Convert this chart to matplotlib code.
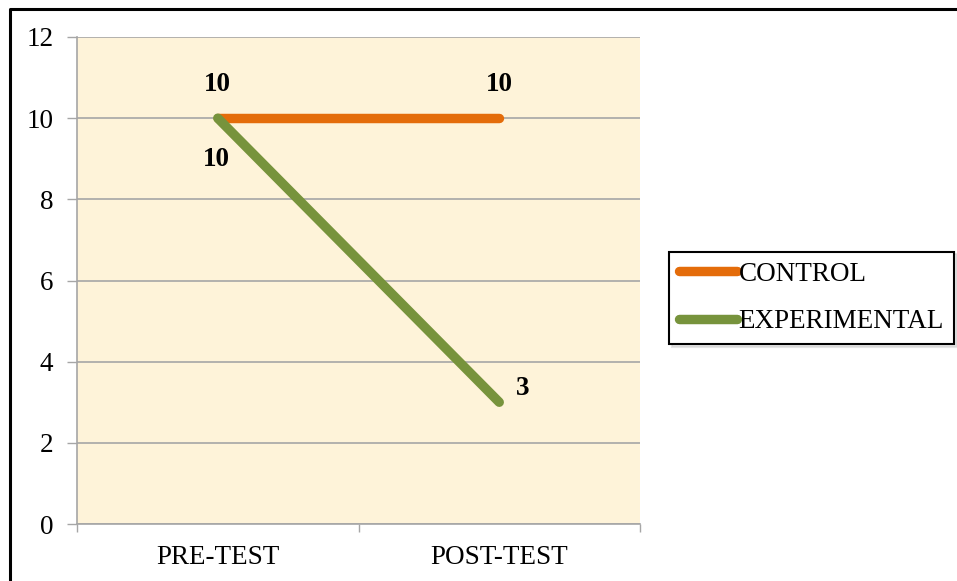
import matplotlib.pyplot as plt
from matplotlib.lines import Line2D

# Test scores per group
phases = ['PRE-TEST', 'POST-TEST']
control = [10, 10]
experimental = [10, 3]

plt.rcParams['font.family'] = ['Liberation Serif', 'DejaVu Serif']

fig = plt.figure(figsize=(9.57, 5.81), dpi=100)
ax = fig.add_axes([77 / 957, 57 / 581, 563 / 957, 487 / 581])
ax.set_facecolor('#FEF3D9')

x = list(range(len(phases)))
ax.plot(x, control, color='#E46C0A', linewidth=6.8, solid_capstyle='round',
        label='CONTROL', zorder=3)
ax.plot(x, experimental, color='#77933C', linewidth=6.8, solid_capstyle='round',
        label='EXPERIMENTAL', zorder=4)

# Value labels
lbl = dict(fontsize=19.5, fontweight='bold', ha='center', va='center',
           textcoords='offset points')
ax.annotate(str(control[0]), (x[0], control[0]), xytext=(0, 24), **lbl)
ax.annotate(str(control[1]), (x[1], control[1]), xytext=(0, 24), **lbl)
ax.annotate(str(experimental[0]), (x[0], experimental[0]), xytext=(-1, -30), **lbl)
ax.annotate(str(experimental[1]), (x[1], experimental[1]), xytext=(17, 10), **lbl)

# Axes
ax.set_xlim(-0.5, len(phases) - 0.5)
ax.set_ylim(0, 12)
ax.set_yticks(range(0, 13, 2))
ax.set_xticks([i - 0.5 for i in range(len(phases) + 1)])
ax.set_xticklabels([])
ax.set_xticks(x, minor=True)
ax.set_xticklabels(phases, minor=True)
ax.tick_params(axis='x', which='major', length=6, width=1, color='#A6A6A6')
ax.tick_params(axis='x', which='minor', length=0, pad=15, labelsize=19.5)
ax.tick_params(axis='y', length=7, width=1, color='#A6A6A6', pad=10, labelsize=19.5)
ax.grid(axis='y', color='#A6A6A6', linewidth=1.2)
ax.set_axisbelow(True)
for side in ['top', 'right']:
    ax.spines[side].set_visible(False)
for side in ['left', 'bottom']:
    ax.spines[side].set_color('#A6A6A6')
    ax.spines[side].set_linewidth(1.2)

leg = fig.legend(loc='center left', bbox_to_anchor=(669 / 957, 1 - 298 / 581),
                 fontsize=19.5, frameon=True, fancybox=False, handlelength=2.15,
                 handletextpad=0.05, borderpad=0.37, labelspacing=0.84,
                 borderaxespad=0, shadow={'color': '0.8'})
leg.get_frame().set_edgecolor('black')
leg.get_frame().set_linewidth(1.5)

# Outer frame (top and left edges)
fx = 10 / 957
fy = 1 - 9 / 581
fig.add_artist(Line2D([fx, fx, 1], [0, fy, fy], color='black', linewidth=2.2,
                      transform=fig.transFigure))

fig.savefig('out.png', dpi=100)
